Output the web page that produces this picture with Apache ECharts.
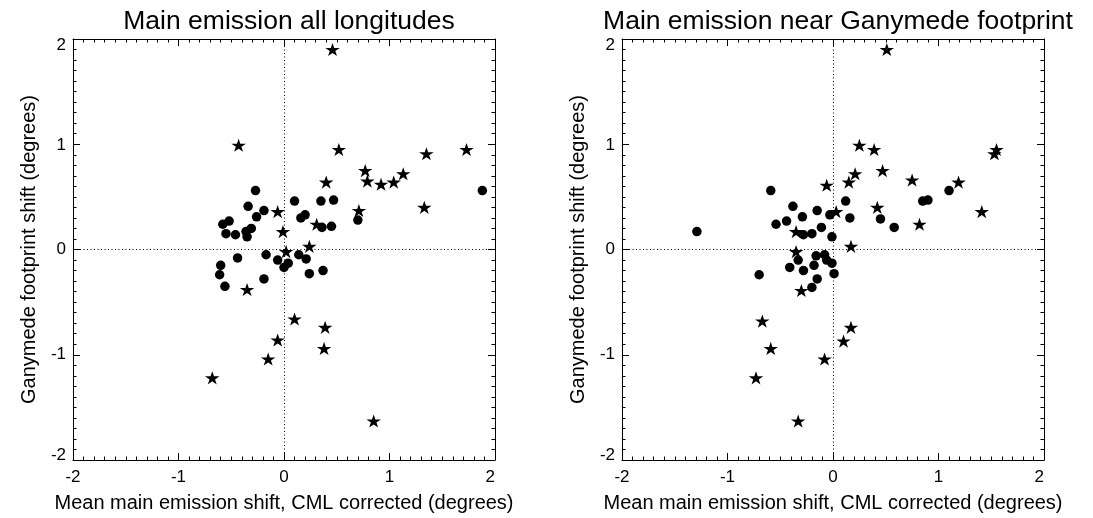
<!DOCTYPE html>
<html><head><meta charset="utf-8">
<script src="https://cdn.jsdelivr.net/npm/echarts@6/dist/echarts.min.js"></script>
<style>html,body{margin:0;padding:0;background:#fff}#c{width:1093px;height:518px}</style>
</head><body><div id="c"></div>
<script>
// Left panel: Main emission all longitudes
const leftCircles = [[-0.27,0.56],[-0.34,0.41],[-0.19,0.37],[-0.26,0.31],[-0.52,0.27],[-0.58,0.24],[-0.55,0.15],[-0.46,0.14],[-0.36,0.17],[-0.31,0.20],[-0.35,0.12],[0.10,0.46],[0.35,0.46],[0.16,0.30],[0.20,0.33],[0.36,0.21],[0.45,0.22],[-0.17,-0.05],[-0.44,-0.08],[-0.60,-0.15],[-0.61,-0.24],[-0.56,-0.35],[-0.19,-0.28],[-0.06,-0.10],[0.04,-0.13],[0.00,-0.17],[0.14,-0.05],[0.21,-0.09],[0.24,-0.23],[0.37,-0.20],[1.88,0.56],[0.47,0.47],[0.70,0.28]];
const leftStars = [[-0.43,0.99],[-0.06,0.36],[-0.01,0.17],[0.40,0.64],[0.31,0.24],[0.02,-0.02],[0.24,0.03],[-0.35,-0.38],[0.10,-0.66],[0.46,1.90],[0.52,0.95],[1.35,0.91],[1.73,0.95],[0.77,0.75],[0.79,0.65],[0.92,0.62],[1.04,0.64],[1.13,0.72],[1.33,0.40],[0.71,0.37],[0.39,-0.74],[-0.06,-0.86],[0.38,-0.94],[-0.15,-1.04],[-0.68,-1.22],[0.85,-1.63]];
// Right panel: Main emission near Ganymede footprint
const rightCircles = [[-1.29,0.17],[-0.59,0.56],[-0.38,0.41],[-0.29,0.31],[-0.44,0.27],[-0.54,0.24],[-0.15,0.37],[-0.28,0.14],[-0.20,0.15],[-0.11,0.21],[-0.41,-0.17],[-0.33,-0.10],[-0.28,-0.20],[-0.18,-0.15],[-0.16,-0.06],[-0.70,-0.24],[-0.20,-0.36],[-0.15,-0.28],[0.12,0.46],[0.85,0.46],[0.90,0.47],[0.45,0.29],[0.58,0.21],[-0.03,0.33],[0.16,0.30],[-0.01,0.12],[-0.08,-0.05],[-0.06,-0.10],[-0.01,-0.13],[0.01,-0.23],[1.10,0.56]];
const rightStars = [[0.25,0.99],[0.39,0.95],[0.21,0.72],[0.15,0.64],[0.47,0.75],[0.75,0.66],[-0.06,0.61],[0.42,0.40],[0.82,0.24],[0.03,0.36],[-0.35,0.17],[0.17,0.03],[-0.35,-0.02],[1.55,0.95],[1.53,0.91],[1.19,0.64],[1.41,0.36],[0.51,1.90],[-0.67,-0.68],[0.17,-0.74],[0.10,-0.87],[-0.59,-0.94],[-0.08,-1.04],[-0.73,-1.22],[-0.33,-1.63],[-0.30,-0.39]];
const titles = ['Main emission all longitudes','Main emission near Ganymede footprint'];
const xName = 'Mean main emission shift, CML corrected (degrees)';
const yName = 'Ganymede footprint shift (degrees)';

const FONT = 'Liberation Sans, Arial, Helvetica, sans-serif';
const STAR = 'path://M0,-1 L0.2245,-0.309 L0.951,-0.309 L0.363,0.118 L0.588,0.809 L0,0.382 L-0.588,0.809 L-0.363,0.118 L-0.951,-0.309 L-0.2245,-0.309 Z';
const grids = [{left:73,top:39,width:422,height:423},{left:622,top:39,width:422,height:423}];

function axisCommon(showLabels){
  return {
    min:-2,max:2,interval:1,
    axisLine:{onZero:false,lineStyle:{color:'#000',width:1}},
    axisTick:{inside:true,length:7,lineStyle:{color:'#000',width:1}},
    minorTick:{show:true,splitNumber:10,length:3.5,lineStyle:{color:'#000',width:1}},
    splitLine:{show:false},
    axisLabel:{show:showLabels,color:'#000',fontSize:17,fontFamily:FONT,margin:8},
  };
}
const richBase = {color:'#000',fontSize:17,fontFamily:FONT};
const xAxes=[], yAxes=[], series=[], titleArr=[];
for(let g=0; g<2; g++){
  const xb = axisCommon(true);
  xb.axisLabel.alignMaxLabel = 'right';
  xb.axisLabel.margin = 9;
  xAxes.push(Object.assign(xb,{gridIndex:g,position:'bottom',name:xName,nameLocation:'middle',nameGap:33,nameTextStyle:{color:'#000',fontSize:20,fontFamily:FONT}}));
  xAxes.push(Object.assign(axisCommon(false),{gridIndex:g,position:'top'}));
  const yl = axisCommon(true);
  yl.axisLabel.margin = 7;
  yl.axisLabel.formatter = function(v){
    if(v===2) return '{hi|2}';
    if(v===-2) return '{lo|-2}';
    if(v===1) return '{m1|1}';
    return String(v);
  };
  yl.axisLabel.rich = {
    hi:Object.assign({padding:[12,0,0,0]},richBase),
    lo:Object.assign({padding:[0,0,10,0]},richBase),
    m1:Object.assign({padding:[3,0,0,0]},richBase)
  };
  yAxes.push(Object.assign(yl,{gridIndex:g,position:'left',name:yName,nameLocation:'middle',nameGap:34,nameTextStyle:{color:'#000',fontSize:20,fontFamily:FONT}}));
  yAxes.push(Object.assign(axisCommon(false),{gridIndex:g,position:'right'}));
  const circ = g===0?leftCircles:rightCircles;
  const star = g===0?leftStars:rightStars;
  series.push({type:'scatter',xAxisIndex:2*g,yAxisIndex:2*g,data:circ,symbol:'circle',symbolSize:9.5,itemStyle:{color:'#000',opacity:1},silent:true,
    markLine:{silent:true,symbol:'none',label:{show:false},lineStyle:{color:'#000',type:[1,2.5],width:1},data:[{xAxis:0},{yAxis:0}]}});
  series.push({type:'scatter',xAxisIndex:2*g,yAxisIndex:2*g,data:star,symbol:STAR,symbolKeepAspect:true,symbolSize:[14.5,13.8],itemStyle:{color:'#000',opacity:1},silent:true});
  titleArr.push({text:titles[g],left:grids[g].left+grids[g].width/2,top:3,textAlign:'center',textStyle:{color:'#000',fontSize:26.5,fontWeight:'normal',fontFamily:FONT}});
}
const chart = echarts.init(document.getElementById('c'),null,{renderer:'canvas'});
chart.setOption({
  animation:false,
  backgroundColor:'#fff',
  title:titleArr,
  grid:grids,
  xAxis:xAxes,
  yAxis:yAxes,
  series:series
});
</script></body></html>
